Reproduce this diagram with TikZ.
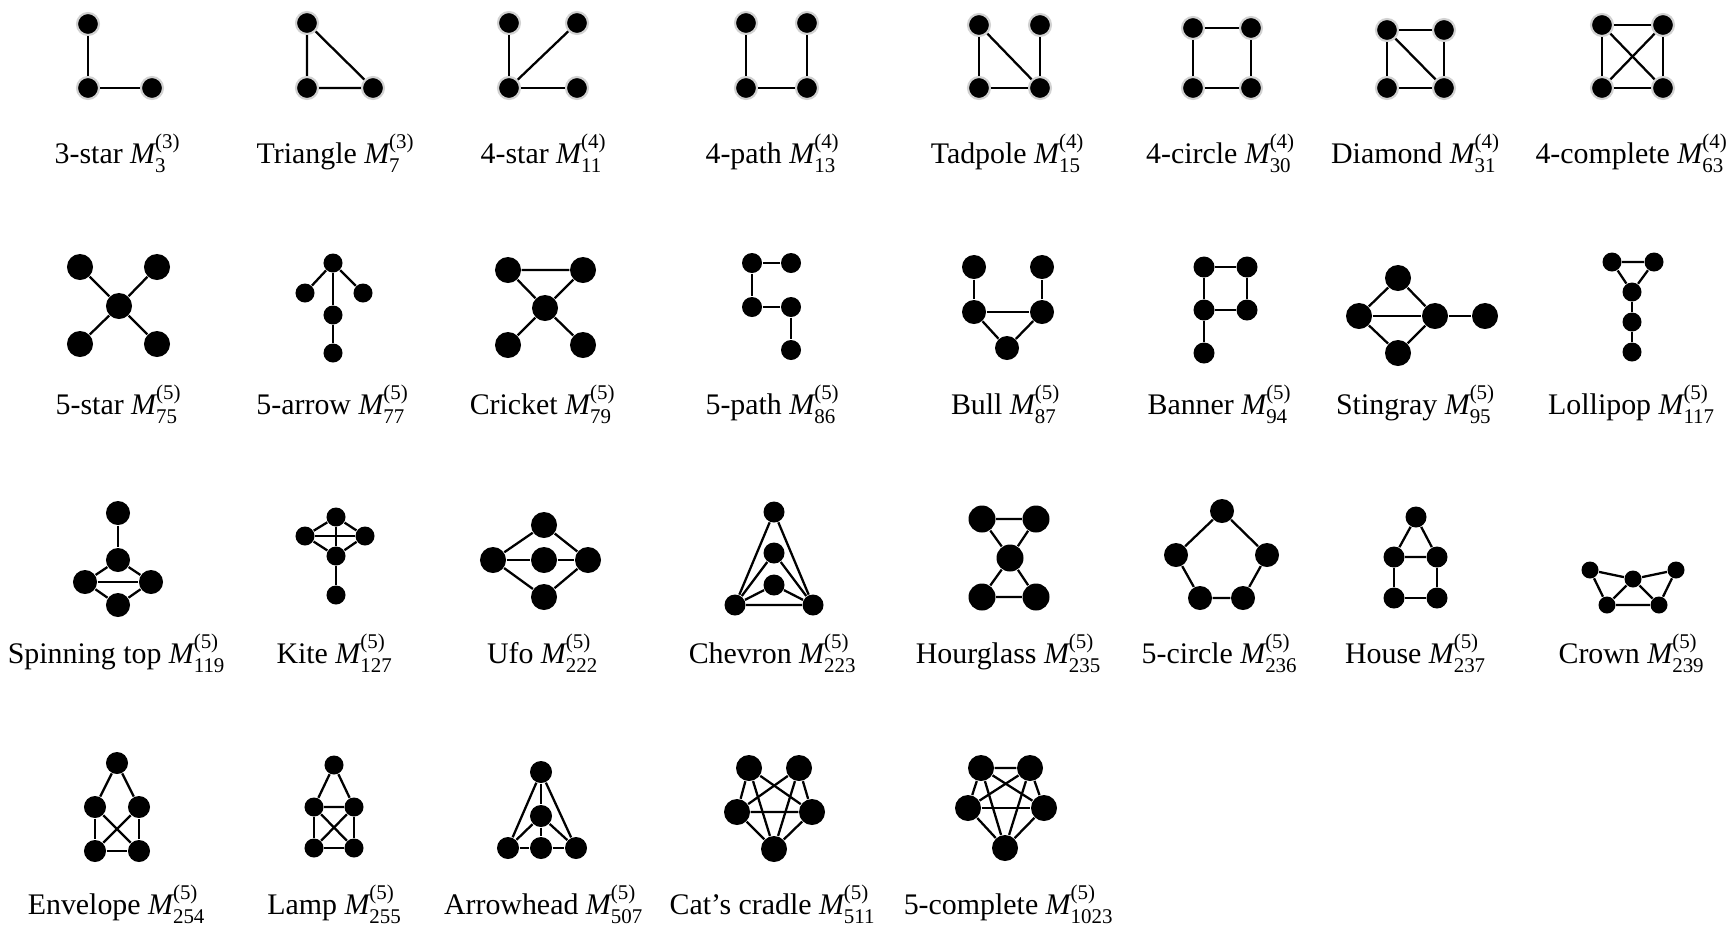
\documentclass[tikz,border=0pt]{standalone}
\usepackage{amsmath}
\usepackage{fontspec}
\setmainfont{Liberation Serif}
\newcommand{\motif}[2]{$\mathit{M}^{\text{(#1)}}_{\text{#2}}$}
\begin{document}
\begin{tikzpicture}[
        x=0.01cm, y=-0.01cm,
        vtx/.style={
            circle,
            fill=black,
            inner sep=0pt,
            minimum size=#1
        },
        vtx/.default=2.2mm,
        halo/.style={draw=gray!35, line width=0.6pt},
        edge/.style={
            draw,
            line width=0.65pt
        },
        lbl/.style={
            anchor=base,
            inner sep=0pt,
            font=\fontsize{8.5}{10}\selectfont
        }
    ]
    \useasboundingbox (0,0) rectangle (1730,927);

    % ---------- row 1 ----------
    % 3-star
    \node[vtx=2.2mm, halo] (m3a) at (88,24) {};
    \node[vtx=2.2mm, halo] (m3b) at (88,88) {};
    \node[vtx=2.2mm, halo] (m3c) at (152,88) {};
    \draw[edge] (m3a) -- (m3b) -- (m3c);
    \node[lbl] (l3) at (118,163) {3-star \motif{3}{3}};

    % triangle
    \node[vtx=2.2mm, halo] (m7a) at (307,23) {};
    \node[vtx=2.2mm, halo] (m7b) at (307,88) {};
    \node[vtx=2.2mm, halo] (m7c) at (373,88) {};
    \draw[edge] (m7a) -- (m7b) -- (m7c) -- (m7a);
    \node[lbl] (l7) at (336,163) {Triangle \motif{3}{7}};

    % 4-star
    \node[vtx=2.2mm, halo] (m11a) at (509,23) {};
    \node[vtx=2.2mm, halo] (m11b) at (577,23) {};
    \node[vtx=2.2mm, halo] (m11c) at (509,88) {};
    \node[vtx=2.2mm, halo] (m11d) at (577,88) {};
    \draw[edge] (m11a) -- (m11c) -- (m11d);
    \draw[edge] (m11b) -- (m11c);
    \node[lbl] (l11) at (544,163) {4-star \motif{4}{11}};

    % 4-path
    \node[vtx=2.2mm, halo] (m13a) at (746,23) {};
    \node[vtx=2.2mm, halo] (m13b) at (807,23) {};
    \node[vtx=2.2mm, halo] (m13c) at (746,88) {};
    \node[vtx=2.2mm, halo] (m13d) at (807,88) {};
    \draw[edge] (m13a) -- (m13c) -- (m13d) -- (m13b);
    \node[lbl] (l13) at (773,163) {4-path \motif{4}{13}};

    % tadpole
    \node[vtx=2.2mm, halo] (m15a) at (979,25) {};
    \node[vtx=2.2mm, halo] (m15b) at (1040,25) {};
    \node[vtx=2.2mm, halo] (m15c) at (979,88) {};
    \node[vtx=2.2mm, halo] (m15d) at (1040,88) {};
    \draw[edge] (m15a) -- (m15c) -- (m15d) -- (m15b);
    \draw[edge] (m15a) -- (m15d);
    \node[lbl] (l15) at (1008,163) {Tadpole \motif{4}{15}};

    % 4-circle
    \node[vtx=2.2mm, halo] (m30a) at (1193,28) {};
    \node[vtx=2.2mm, halo] (m30b) at (1251,28) {};
    \node[vtx=2.2mm, halo] (m30c) at (1193,88) {};
    \node[vtx=2.2mm, halo] (m30d) at (1251,88) {};
    \draw[edge] (m30a) -- (m30b) -- (m30d) -- (m30c) -- (m30a);
    \node[lbl] (l30) at (1221,163) {4-circle \motif{4}{30}};

    % diamond
    \node[vtx=2.2mm, halo] (m31a) at (1387,30) {};
    \node[vtx=2.2mm, halo] (m31b) at (1444,30) {};
    \node[vtx=2.2mm, halo] (m31c) at (1387,88) {};
    \node[vtx=2.2mm, halo] (m31d) at (1444,88) {};
    \draw[edge] (m31a) -- (m31b) -- (m31d) -- (m31c) -- (m31a);
    \draw[edge] (m31a) -- (m31d);
    \node[lbl] (l31) at (1416,163) {Diamond \motif{4}{31}};

    % 4-complete
    \node[vtx=2.2mm, halo] (m63a) at (1602,25) {};
    \node[vtx=2.2mm, halo] (m63b) at (1663,25) {};
    \node[vtx=2.2mm, halo] (m63c) at (1602,88) {};
    \node[vtx=2.2mm, halo] (m63d) at (1663,88) {};
    \draw[edge] (m63a) -- (m63b) -- (m63d) -- (m63c) -- (m63a);
    \draw[edge] (m63a) -- (m63d);
    \draw[edge] (m63b) -- (m63c);
    \node[lbl] (l63) at (1632,163) {4-complete \motif{4}{63}};

    % ---------- row 2 ----------
    % 5-star
    \node[vtx=2.6mm] (m75a) at (80,267) {};
    \node[vtx=2.6mm] (m75b) at (157,267) {};
    \node[vtx=2.6mm] (m75c) at (119,306) {};
    \node[vtx=2.6mm] (m75d) at (80,344) {};
    \node[vtx=2.6mm] (m75e) at (157,344) {};
    \draw[edge] (m75a) -- (m75c) -- (m75e);
    \draw[edge] (m75b) -- (m75c) -- (m75d);
    \node[lbl] (l75) at (119,414) {5-star \motif{5}{75}};

    % 5-arrow
    \node[vtx=1.9mm] (m77a) at (333,263) {};
    \node[vtx=1.9mm] (m77b) at (305,293) {};
    \node[vtx=1.9mm] (m77c) at (363,293) {};
    \node[vtx=1.9mm] (m77d) at (333,315) {};
    \node[vtx=1.9mm] (m77e) at (333,353) {};
    \draw[edge] (m77b) -- (m77a) -- (m77c);
    \draw[edge] (m77a) -- (m77d) -- (m77e);
    \node[lbl] (l77) at (333,414) {5-arrow \motif{5}{77}};

    % cricket
    \node[vtx=2.6mm] (m79a) at (508,270) {};
    \node[vtx=2.6mm] (m79b) at (583,270) {};
    \node[vtx=2.6mm] (m79c) at (545,308) {};
    \node[vtx=2.6mm] (m79d) at (508,345) {};
    \node[vtx=2.6mm] (m79e) at (583,345) {};
    \draw[edge] (m79a) -- (m79b) -- (m79c) -- (m79a);
    \draw[edge] (m79d) -- (m79c) -- (m79e);
    \node[lbl] (l79) at (543,414) {Cricket \motif{5}{79}};

    % 5-path
    \node[vtx=2.0mm] (m86a) at (752,263) {};
    \node[vtx=2.0mm] (m86b) at (791,263) {};
    \node[vtx=2.0mm] (m86c) at (752,307) {};
    \node[vtx=2.0mm] (m86d) at (791,307) {};
    \node[vtx=2.0mm] (m86e) at (791,350) {};
    \draw[edge] (m86b) -- (m86a) -- (m86c) -- (m86d) -- (m86e);
    \node[lbl] (l86) at (773,414) {5-path \motif{5}{86}};

    % bull
    \node[vtx=2.4mm] (m87a) at (974,267) {};
    \node[vtx=2.4mm] (m87b) at (1042,267) {};
    \node[vtx=2.4mm] (m87c) at (974,312) {};
    \node[vtx=2.4mm] (m87d) at (1042,312) {};
    \node[vtx=2.4mm] (m87e) at (1007,348) {};
    \draw[edge] (m87a) -- (m87c) -- (m87d) -- (m87b);
    \draw[edge] (m87c) -- (m87e) -- (m87d);
    \node[lbl] (l87) at (1006,414) {Bull \motif{5}{87}};

    % banner
    \node[vtx=2.1mm] (m94a) at (1204,267) {};
    \node[vtx=2.1mm] (m94b) at (1247,267) {};
    \node[vtx=2.1mm] (m94c) at (1204,310) {};
    \node[vtx=2.1mm] (m94d) at (1247,310) {};
    \node[vtx=2.1mm] (m94e) at (1204,353) {};
    \draw[edge] (m94a) -- (m94b) -- (m94d) -- (m94c) -- (m94a);
    \draw[edge] (m94c) -- (m94e);
    \node[lbl] (l94) at (1220,414) {Banner \motif{5}{94}};

    % stingray
    \node[vtx=2.6mm] (m95a) at (1398,278) {};
    \node[vtx=2.6mm] (m95b) at (1359,316) {};
    \node[vtx=2.6mm] (m95c) at (1435,316) {};
    \node[vtx=2.6mm] (m95d) at (1398,353) {};
    \node[vtx=2.6mm] (m95e) at (1485,316) {};
    \draw[edge] (m95a) -- (m95b) -- (m95d) -- (m95c) -- (m95a);
    \draw[edge] (m95b) -- (m95c) -- (m95e);
    \node[lbl] (l95) at (1416,414) {Stingray \motif{5}{95}};

    % lollipop
    \node[vtx=1.9mm] (m117a) at (1612,262) {};
    \node[vtx=1.9mm] (m117b) at (1654,262) {};
    \node[vtx=1.9mm] (m117c) at (1632,292) {};
    \node[vtx=1.9mm] (m117d) at (1632,322) {};
    \node[vtx=1.9mm] (m117e) at (1632,352) {};
    \draw[edge] (m117a) -- (m117b) -- (m117c) -- (m117a);
    \draw[edge] (m117c) -- (m117d) -- (m117e);
    \node[lbl] (l117) at (1632,414) {Lollipop \motif{5}{117}};

    % ---------- row 3 ----------
    % spinning top
    \node[vtx=2.4mm] (m119a) at (118,513) {};
    \node[vtx=2.4mm] (m119b) at (118,560) {};
    \node[vtx=2.4mm] (m119c) at (85,582) {};
    \node[vtx=2.4mm] (m119d) at (151,582) {};
    \node[vtx=2.4mm] (m119e) at (118,605) {};
    \draw[edge] (m119a) -- (m119b);
    \draw[edge] (m119b) -- (m119c) -- (m119e) -- (m119d) -- (m119b);
    \draw[edge] (m119c) -- (m119d);
    \node[lbl] (l119) at (117,663) {Spinning top \motif{5}{119}};

    % kite
    \node[vtx=1.9mm] (m127a) at (336,517) {};
    \node[vtx=1.9mm] (m127b) at (305,536) {};
    \node[vtx=1.9mm] (m127c) at (365,536) {};
    \node[vtx=1.9mm] (m127d) at (336,556) {};
    \node[vtx=1.9mm] (m127e) at (336,595) {};
    \draw[edge] (m127a) -- (m127b) -- (m127d) -- (m127c) -- (m127a);
    \draw[edge] (m127b) -- (m127c);
    \draw[edge] (m127a) -- (m127d) -- (m127e);
    \node[lbl] (l127) at (335,663) {Kite \motif{5}{127}};

    % ufo
    \node[vtx=2.6mm] (m222a) at (544,525) {};
    \node[vtx=2.6mm] (m222b) at (493,560) {};
    \node[vtx=2.6mm] (m222c) at (544,560) {};
    \node[vtx=2.6mm] (m222d) at (588,560) {};
    \node[vtx=2.6mm] (m222e) at (544,597) {};
    \draw[edge] (m222a) -- (m222b) -- (m222e) -- (m222d) -- (m222a);
    \draw[edge] (m222b) -- (m222c) -- (m222d);
    \node[lbl] (l222) at (543,663) {Ufo \motif{5}{222}};

    % chevron
    \node[vtx=2.1mm] (m223a) at (774,512) {};
    \node[vtx=2.1mm] (m223b) at (774,553) {};
    \node[vtx=2.1mm] (m223c) at (774,585) {};
    \node[vtx=2.1mm] (m223d) at (735,605) {};
    \node[vtx=2.1mm] (m223e) at (813,605) {};
    \draw[edge] (m223a) -- (m223d) -- (m223e) -- (m223a);
    \draw[edge] (m223d) -- (m223b) -- (m223e);
    \draw[edge] (m223d) -- (m223c) -- (m223e);
    \node[lbl] (l223) at (773,663) {Chevron \motif{5}{223}};

    % hourglass
    \node[vtx=2.7mm] (m235a) at (982,519) {};
    \node[vtx=2.7mm] (m235b) at (1036,519) {};
    \node[vtx=2.7mm] (m235c) at (1010,558) {};
    \node[vtx=2.7mm] (m235d) at (982,597) {};
    \node[vtx=2.7mm] (m235e) at (1036,597) {};
    \draw[edge] (m235a) -- (m235b) -- (m235c) -- (m235a);
    \draw[edge] (m235d) -- (m235e) -- (m235c) -- (m235d);
    \node[lbl] (l235) at (1009,663) {Hourglass \motif{5}{235}};

    % 5-circle
    \node[vtx=2.4mm] (m236a) at (1222,511) {};
    \node[vtx=2.4mm] (m236b) at (1176,555) {};
    \node[vtx=2.4mm] (m236c) at (1267,555) {};
    \node[vtx=2.4mm] (m236d) at (1200,598) {};
    \node[vtx=2.4mm] (m236e) at (1243,598) {};
    \draw[edge] (m236a) -- (m236b) -- (m236d) -- (m236e) -- (m236c) -- (m236a);
    \node[lbl] (l236) at (1220,663) {5-circle \motif{5}{236}};

    % house
    \node[vtx=2.1mm] (m237a) at (1416,517) {};
    \node[vtx=2.1mm] (m237b) at (1394,557) {};
    \node[vtx=2.1mm] (m237c) at (1437,557) {};
    \node[vtx=2.1mm] (m237d) at (1394,598) {};
    \node[vtx=2.1mm] (m237e) at (1437,598) {};
    \draw[edge] (m237a) -- (m237b) -- (m237c) -- (m237a);
    \draw[edge] (m237b) -- (m237d) -- (m237e) -- (m237c);
    \node[lbl] (l237) at (1416,663) {House \motif{5}{237}};

    % crown
    \node[vtx=1.7mm] (m239a) at (1590,570) {};
    \node[vtx=1.7mm] (m239b) at (1633,579) {};
    \node[vtx=1.7mm] (m239c) at (1676,570) {};
    \node[vtx=1.7mm] (m239d) at (1607,605) {};
    \node[vtx=1.7mm] (m239e) at (1659,605) {};
    \draw[edge] (m239a) -- (m239b) -- (m239c) -- (m239e) -- (m239d) -- (m239a);
    \draw[edge] (m239d) -- (m239b) -- (m239e);
    \node[lbl] (l239) at (1632,663) {Crown \motif{5}{239}};

    % ---------- row 4 ----------
    % envelope
    \node[vtx=2.2mm] (m254a) at (117,763) {};
    \node[vtx=2.2mm] (m254b) at (95,807) {};
    \node[vtx=2.2mm] (m254c) at (139,807) {};
    \node[vtx=2.2mm] (m254d) at (95,851) {};
    \node[vtx=2.2mm] (m254e) at (139,851) {};
    \draw[edge] (m254b) -- (m254a) -- (m254c);
    \draw[edge] (m254b) -- (m254d) -- (m254e) -- (m254c);
    \draw[edge] (m254b) -- (m254e);
    \draw[edge] (m254c) -- (m254d);
    \node[lbl] (l254) at (117,914) {Envelope \motif{5}{254}};

    % lamp
    \node[vtx=1.9mm] (m255a) at (334,765) {};
    \node[vtx=1.9mm] (m255b) at (314,807) {};
    \node[vtx=1.9mm] (m255c) at (354,807) {};
    \node[vtx=1.9mm] (m255d) at (314,848) {};
    \node[vtx=1.9mm] (m255e) at (354,848) {};
    \draw[edge] (m255a) -- (m255b) -- (m255c) -- (m255a);
    \draw[edge] (m255b) -- (m255d) -- (m255e) -- (m255c);
    \draw[edge] (m255b) -- (m255e);
    \draw[edge] (m255c) -- (m255d);
    \node[lbl] (l255) at (335,914) {Lamp \motif{5}{255}};

    % arrowhead
    \node[vtx=2.2mm] (m507a) at (541,772) {};
    \node[vtx=2.2mm] (m507b) at (541,816) {};
    \node[vtx=2.2mm] (m507c) at (508,848) {};
    \node[vtx=2.2mm] (m507d) at (541,848) {};
    \node[vtx=2.2mm] (m507e) at (576,848) {};
    \draw[edge] (m507c) -- (m507a) -- (m507e);
    \draw[edge] (m507a) -- (m507b) -- (m507d);
    \draw[edge] (m507c) -- (m507b) -- (m507e);
    \draw[edge] (m507c) -- (m507d) -- (m507e);
    \node[lbl] (l507) at (544,914) {Arrowhead \motif{5}{507}};

    % cat's cradle
    \node[vtx=2.6mm] (m511a) at (749,768) {};
    \node[vtx=2.6mm] (m511b) at (799,768) {};
    \node[vtx=2.6mm] (m511c) at (737,812) {};
    \node[vtx=2.6mm] (m511d) at (812,812) {};
    \node[vtx=2.6mm] (m511e) at (774,849) {};
    \draw[edge] (m511a) -- (m511c) -- (m511d) -- (m511b);
    \draw[edge] (m511a) -- (m511d);
    \draw[edge] (m511b) -- (m511c);
    \draw[edge] (m511a) -- (m511e) -- (m511b);
    \draw[edge] (m511c) -- (m511e) -- (m511d);
    \node[lbl] (l511) at (773,914) {Cat's cradle \motif{5}{511}};

    % 5-complete
    \node[vtx=2.6mm] (m1023a) at (981,768) {};
    \node[vtx=2.6mm] (m1023b) at (1030,768) {};
    \node[vtx=2.6mm] (m1023c) at (968,808) {};
    \node[vtx=2.6mm] (m1023d) at (1044,808) {};
    \node[vtx=2.6mm] (m1023e) at (1005,848) {};
    \draw[edge] (m1023a) -- (m1023b) -- (m1023d) -- (m1023e) -- (m1023c) -- (m1023a);
    \draw[edge] (m1023a) -- (m1023d);
    \draw[edge] (m1023b) -- (m1023c);
    \draw[edge] (m1023c) -- (m1023d);
    \draw[edge] (m1023a) -- (m1023e) -- (m1023b);
    \node[lbl] (l1023) at (1009,914) {5-complete \motif{5}{1023}};
\end{tikzpicture}
\end{document}
